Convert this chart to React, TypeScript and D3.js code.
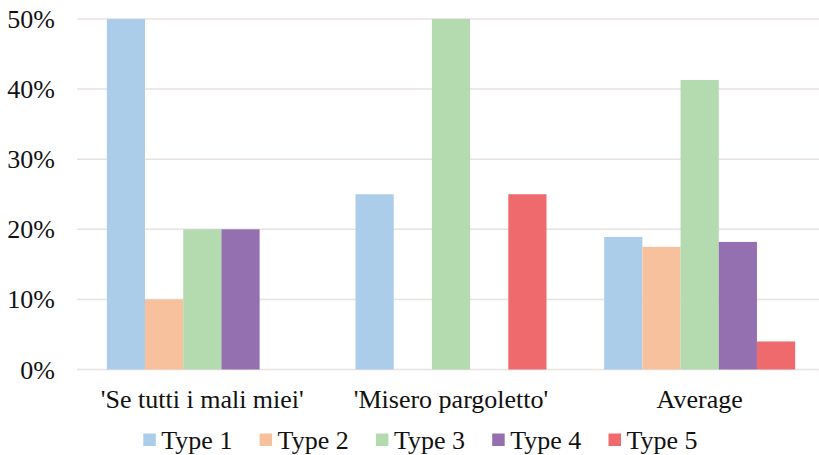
import React from "react";
import * as d3 from "d3";

const categories = ["'Se tutti i mali miei'", "'Misero pargoletto'", "Average"];
const seriesNames = ["Type 1", "Type 2", "Type 3", "Type 4", "Type 5"];
const type1 = [50, 25, 18.9];
const type2 = [10, 0, 17.5];
const type3 = [20, 50, 41.3];
const type4 = [20, 0, 18.2];
const type5 = [0, 25, 4.0];
const yTicks = [0, 10, 20, 30, 40, 50];
const colors = ["#abcdea", "#f7c19e", "#b4dbb0", "#9570b0", "#ef6a6c"];

const series = [type1, type2, type3, type4, type5];

const W = 819;
const H = 455;
const textStyle: React.CSSProperties = {
  fontFamily: '"Liberation Serif", "DejaVu Serif", serif',
  fontSize: 26,
};

export default function App() {
  const x0 = d3.scaleBand<string>().domain(categories).range([78, 824]).paddingInner(0).paddingOuter(0);
  const groupInner = 191;
  const x1 = d3
    .scaleBand<string>()
    .domain(seriesNames)
    .range([(x0.bandwidth() - groupInner) / 2, (x0.bandwidth() + groupInner) / 2])
    .padding(0);
  const y = d3.scaleLinear().domain([0, 50]).range([369.5, 19]);

  return (
    <svg
      width={W}
      height={H}
      style={{ position: "absolute", left: 0, top: 0, background: "#fff" }}
    >
      {yTicks.map((t) => (
        <g key={t}>
          <line x1={77} x2={W} y1={y(t)} y2={y(t)} stroke="#e8e2e0" strokeWidth={1.5} />
          <text x={55} y={y(t) + 9} style={textStyle} textAnchor="end" fill="#111">
            {t}%
          </text>
        </g>
      ))}
      {categories.map((c, ci) => (
        <g key={c} transform={`translate(${x0(c)},0)`}>
          {seriesNames.map((s, si) => {
            const v = series[si][ci];
            if (!v) return null;
            return (
              <rect
                key={s}
                x={x1(s)}
                width={x1.bandwidth()}
                y={y(v)}
                height={y(0) - y(v)}
                fill={colors[si]}
              />
            );
          })}
          <text x={x0.bandwidth() / 2} y={408} style={textStyle} textAnchor="middle" fill="#111">
            {c}
          </text>
        </g>
      ))}
      {seriesNames.map((s, i) => {
        const lx = 143.3 + i * 116.3;
        return (
          <g key={s}>
            <rect x={lx} y={433.5} width={12.5} height={12.5} fill={colors[i]} />
            <text x={lx + 18} y={448.5} style={textStyle} fill="#111">
              {s}
            </text>
          </g>
        );
      })}
    </svg>
  );
}
